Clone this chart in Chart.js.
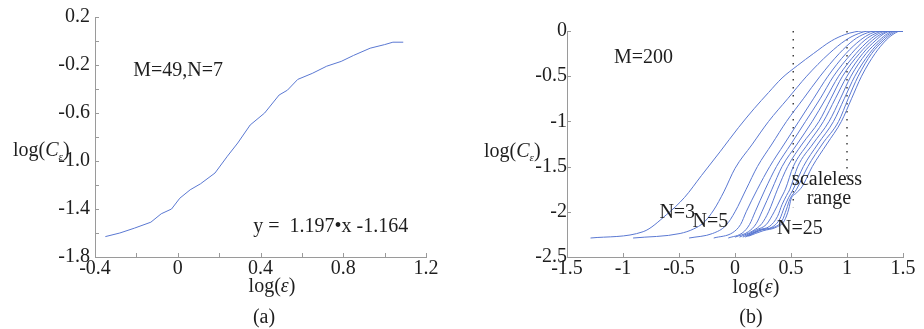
<!DOCTYPE html>
<html>
<head>
<meta charset="utf-8">
<script src="https://cdn.jsdelivr.net/npm/chart.js@4.4.0/dist/chart.umd.min.js"></script>
<style>
  html, body { margin: 0; padding: 0; background: #fff; }
  #wrap { position: relative; width: 924px; height: 329px; }
  .panel { position: absolute; top: 0; height: 329px; }
  #left { left: 0; width: 460px; }
  #right { left: 460px; width: 464px; }
</style>
</head>
<body>
<div id="wrap">
  <div class="panel" id="left"><canvas id="chartA"></canvas></div>
  <div class="panel" id="right"><canvas id="chartB"></canvas></div>
</div>
<script>
// (a) single curve, M=49, N=7
const leftX = [-0.35, -0.28, -0.21, -0.13, -0.08, -0.03, 0.01, 0.06, 0.11, 0.18, 0.24, 0.29, 0.35,
  0.42, 0.49, 0.53, 0.58, 0.65, 0.72, 0.79, 0.85, 0.93, 1.0, 1.04, 1.09];
const leftY = [-1.63, -1.60, -1.56, -1.51, -1.44, -1.40, -1.31, -1.24, -1.19, -1.10, -0.96, -0.85, -0.70,
  -0.60, -0.45, -0.41, -0.32, -0.27, -0.21, -0.17, -0.12, -0.06, -0.03, -0.01, -0.01];

const leftXTickValues = [-0.4, 0, 0.4, 0.8, 1.2];
const leftXTickLabels = ["-0.4", "0", "0.4", "0.8", "1.2"];
const leftYTickValues = [0.2, -0.2, -0.6, -1.0, -1.4, -1.8];
const leftYTickLabels = ["0.2", "-0.2", "-0.6", "-1.0", "-1.4", "-1.8"];

// (b) curve family, M=200, N=3..25
const nValues = [3, 5, 7, 9, 11, 13, 15, 17, 19, 21, 23, 25];

const n3 = [[-1.29,-2.29],[-0.82,-2.22],[-0.61,-2.03],[-0.45,-1.84],[-0.3,-1.6],[-0.13,-1.33],[0.03,-1.07],
  [0.17,-0.86],[0.3,-0.68],[0.42,-0.52],[0.56,-0.38],[0.7,-0.25],[0.86,-0.11],[0.98,-0.04],[1.07,-0.01],[1.13,0],[1.5,0]];
const n5 = [[-0.91,-2.29],[-0.49,-2.24],[-0.37,-2.19],[-0.28,-2.12],[-0.19,-1.98],[-0.1,-1.78],[0.0,-1.52],
  [0.15,-1.26],[0.3,-1.0],[0.47,-0.75],[0.64,-0.5],[0.84,-0.25],[0.99,-0.1],[1.1,-0.03],[1.2,0],[1.5,0]];
const n7 = [[-0.41,-2.29],[-0.2,-2.24],[-0.08,-2.15],[0.0,-2.0],[0.1,-1.75],[0.2,-1.5],[0.33,-1.25],
  [0.46,-1.0],[0.61,-0.75],[0.76,-0.5],[0.93,-0.25],[1.06,-0.1],[1.16,-0.03],[1.26,0],[1.5,0]];
const n9 = [[-0.19,-2.29],[-0.02,-2.23],[0.05,-2.14],[0.1,-2.0],[0.2,-1.75],[0.31,-1.5],[0.44,-1.25],
  [0.57,-1.0],[0.7,-0.75],[0.83,-0.5],[0.99,-0.25],[1.12,-0.1],[1.21,-0.03],[1.3,0],[1.5,0]];
const n11 = [[-0.06,-2.29],[0.07,-2.23],[0.13,-2.14],[0.18,-2.0],[0.27,-1.75],[0.37,-1.5],[0.5,-1.25],
  [0.63,-1.0],[0.76,-0.75],[0.88,-0.5],[1.04,-0.25],[1.16,-0.1],[1.25,-0.03],[1.33,0],[1.5,0]];
const n13 = [[0.0,-2.28],[0.12,-2.22],[0.19,-2.13],[0.24,-2.0],[0.33,-1.75],[0.42,-1.5],[0.555,-1.25],
  [0.69,-1.0],[0.81,-0.75],[0.925,-0.5],[1.08,-0.25],[1.2,-0.1],[1.28,-0.03],[1.36,0],[1.5,0]];
const n15 = [[0.04,-2.28],[0.16,-2.21],[0.24,-2.13],[0.3,-2.0],[0.38,-1.75],[0.47,-1.5],[0.6,-1.25],
  [0.75,-1.0],[0.855,-0.75],[0.96,-0.5],[1.11,-0.25],[1.23,-0.1],[1.31,-0.03],[1.38,0],[1.5,0]];
const n17 = [[0.07,-2.28],[0.19,-2.2],[0.28,-2.14],[0.35,-2.0],[0.41,-1.85],[0.45,-1.75],[0.52,-1.5],
  [0.65,-1.25],[0.79,-1.0],[0.895,-0.75],[1.0,-0.5],[1.14,-0.25],[1.26,-0.1],[1.33,-0.03],[1.4,0],[1.5,0]];
const n19 = [[0.09,-2.28],[0.21,-2.2],[0.31,-2.16],[0.38,-2.05],[0.42,-1.92],[0.46,-1.82],[0.49,-1.75],
  [0.56,-1.5],[0.695,-1.25],[0.84,-1.0],[0.94,-0.75],[1.035,-0.5],[1.17,-0.25],[1.29,-0.1],[1.36,-0.03],[1.42,0],[1.5,0]];
const n21 = [[0.1,-2.27],[0.23,-2.2],[0.33,-2.17],[0.4,-2.08],[0.44,-1.95],[0.48,-1.84],[0.52,-1.75],
  [0.61,-1.5],[0.74,-1.25],[0.88,-1.0],[0.975,-0.75],[1.07,-0.5],[1.2,-0.25],[1.31,-0.1],[1.38,-0.03],[1.44,0],[1.5,0]];
const n23 = [[0.11,-2.27],[0.24,-2.2],[0.35,-2.17],[0.42,-2.1],[0.46,-1.97],[0.49,-1.86],[0.55,-1.75],
  [0.65,-1.5],[0.78,-1.25],[0.925,-1.0],[1.01,-0.75],[1.1,-0.5],[1.22,-0.25],[1.33,-0.1],[1.4,-0.03],[1.46,0],[1.5,0]];
const n25 = [[0.12,-2.27],[0.25,-2.21],[0.37,-2.17],[0.44,-2.1],[0.48,-1.97],[0.5,-1.86],[0.55,-1.79],
  [0.6,-1.72],[0.69,-1.5],[0.82,-1.25],[0.95,-1.0],[1.04,-0.75],[1.13,-0.5],[1.25,-0.25],[1.35,-0.1],
  [1.42,-0.03],[1.48,0],[1.5,0]];

const rightCurves = [n3, n5, n7, n9, n11, n13, n15, n17, n19, n21, n23, n25];

// scaleless range markers
const scalelessBounds = [0.52, 1.0];
const scalelessBottoms = [-1.95, -1.7];

const rightXTickLabels = ["-1.5", "-1", "-0.5", "0", "0.5", "1", "1.5"];
const rightYTickLabels = ["0", "-0.5", "-1", "-1.5", "-2", "-2.5"];

const SERIF = "20px 'Liberation Serif', 'DejaVu Serif', serif";
const ITALIC = "italic 20px 'Liberation Serif', 'DejaVu Serif', serif";
const SUB = "italic 11px 'Liberation Serif', 'DejaVu Serif', serif";
const TEXT_COLOR = "#1e1e1e";
const AXIS_COLOR = "#9a9a9a";
const LINE_COLOR = "#5a78d2";

const logEps = [["log(", SERIF], ["\u03b5", ITALIC], [")", SERIF]];
const logC = [["log(", SERIF], ["C", ITALIC], ["\u03b5", SUB, 4], [")", SERIF]];

function drawRich(ctx, parts, x, y, align) {
  let w = 0;
  parts.forEach(p => { ctx.font = p[1]; w += ctx.measureText(p[0]).width; });
  let cx = align === "center" ? x - w / 2 : x;
  parts.forEach(p => {
    ctx.font = p[1];
    ctx.fillText(p[0], cx, y + (p[2] || 0));
    cx += ctx.measureText(p[0]).width;
  });
}

function pickLabel(values, labels) {
  return value => {
    const i = values.findIndex(v => Math.abs(v - value) < 1e-6);
    return i < 0 ? "" : labels[i];
  };
}

// inward tick marks + text annotations
const decorations = {
  id: "decorations",
  afterDraw(chart, args, opts) {
    const ctx = chart.ctx;
    const area = chart.chartArea;
    const xs = chart.scales.x;
    const ys = chart.scales.y;

    ctx.save();
    ctx.strokeStyle = AXIS_COLOR;
    ctx.lineWidth = 1;
    ctx.beginPath();
    xs.ticks.forEach(t => {
      const px = Math.round(xs.getPixelForValue(t.value)) + 0.5;
      ctx.moveTo(px, area.bottom);
      ctx.lineTo(px, area.bottom - 4);
    });
    ys.ticks.forEach(t => {
      const py = Math.round(ys.getPixelForValue(t.value)) + 0.5;
      ctx.moveTo(area.left, py);
      ctx.lineTo(area.left + 4, py);
    });
    ctx.stroke();

    ctx.fillStyle = TEXT_COLOR;
    ctx.textBaseline = "alphabetic";
    ctx.textAlign = "left";
    (opts.notes || []).forEach(n => {
      ctx.font = SERIF;
      ctx.fillText(n.text, xs.getPixelForValue(n.x), ys.getPixelForValue(n.y));
    });

    drawRich(ctx, logC, opts.yTitle[0], opts.yTitle[1], "left");
    drawRich(ctx, logEps, opts.xTitle[0], opts.xTitle[1], "center");
    ctx.font = SERIF;
    ctx.textAlign = "center";
    ctx.fillText(opts.caption, opts.captionPos[0], opts.captionPos[1]);
    ctx.restore();
  }
};

function axis(min, max, step, cb, padding, fit) {
  return {
    type: "linear",
    min: min,
    max: max,
    ticks: {
      stepSize: step,
      autoSkip: false,
      maxRotation: 0,
      padding: padding,
      color: TEXT_COLOR,
      font: { family: "'Liberation Serif', 'DejaVu Serif', serif", size: 20 },
      callback: cb
    },
    grid: { display: true, drawOnChartArea: false, drawTicks: false },
    border: { display: true, color: AXIS_COLOR, width: 1 },
    afterFit: fit
  };
}

Chart.defaults.animation = false;

new Chart(document.getElementById("chartA"), {
  type: "line",
  data: {
    datasets: [{
      data: leftX.map((x, i) => ({ x: x, y: leftY[i] })),
      borderColor: LINE_COLOR,
      borderWidth: 1,
      pointRadius: 0,
      tension: 0
    }]
  },
  options: {
    responsive: true,
    maintainAspectRatio: false,
    devicePixelRatio: 1,
    layout: { padding: { top: 17, right: 34, bottom: 0, left: 0 } },
    plugins: {
      legend: { display: false },
      tooltip: { enabled: false },
      decorations: {
        notes: [
          { text: "M=49,N=7", x: -0.215, y: -0.29 },
          { text: "y =  1.197\u2022x -1.164", x: 0.365, y: -1.59 }
        ],
        yTitle: [13, 156],
        xTitle: [272, 292],
        caption: "(a)",
        captionPos: [264, 323]
      }
    },
    scales: {
      x: axis(-0.4, 1.2, 0.2, pickLabel(leftXTickValues, leftXTickLabels), 0, s => { s.height = 72; }),
      y: axis(-1.8, 0.2, 0.2, pickLabel(leftYTickValues, leftYTickLabels), 5, s => { s.width = 95; })
    }
  },
  plugins: [decorations]
});

const rightSets = rightCurves.map((c, i) => ({
  label: "N=" + nValues[i],
  data: c.map(p => ({ x: p[0], y: p[1] })),
  borderColor: LINE_COLOR,
  borderWidth: 1,
  pointRadius: 0,
  cubicInterpolationMode: "monotone"
}));

scalelessBounds.forEach((b, i) => {
  rightSets.push({
    label: "bound" + i,
    data: [{ x: b, y: 0 }, { x: b, y: scalelessBottoms[i] }],
    borderColor: "#333",
    borderWidth: 1.4,
    borderDash: [1.5, 6.5],
    pointRadius: 0
  });
});

new Chart(document.getElementById("chartB"), {
  type: "line",
  data: { datasets: rightSets },
  options: {
    responsive: true,
    maintainAspectRatio: false,
    devicePixelRatio: 1,
    layout: { padding: { top: 31, right: 21, bottom: 0, left: 0 } },
    plugins: {
      legend: { display: false },
      tooltip: { enabled: false },
      decorations: {
        notes: [
          { text: "M=200", x: -1.08, y: -0.35 },
          { text: "scaleless", x: 0.51, y: -1.70 },
          { text: "range", x: 0.64, y: -1.91 },
          { text: "N=3", x: -0.675, y: -2.07 },
          { text: "N=5", x: -0.38, y: -2.17 },
          { text: "N=25", x: 0.375, y: -2.25 }
        ],
        yTitle: [24, 157],
        xTitle: [296, 293],
        caption: "(b)",
        captionPos: [291, 323]
      }
    },
    scales: {
      x: axis(-1.5, 1.5, 0.5, v => rightXTickLabels[Math.round((v + 1.5) / 0.5)], 0, s => { s.height = 72; }),
      y: axis(-2.5, 0, 0.5, v => rightYTickLabels[Math.round(-v / 0.5)], 0, s => { s.width = 107; })
    }
  },
  plugins: [decorations]
});
</script>
</body>
</html>
